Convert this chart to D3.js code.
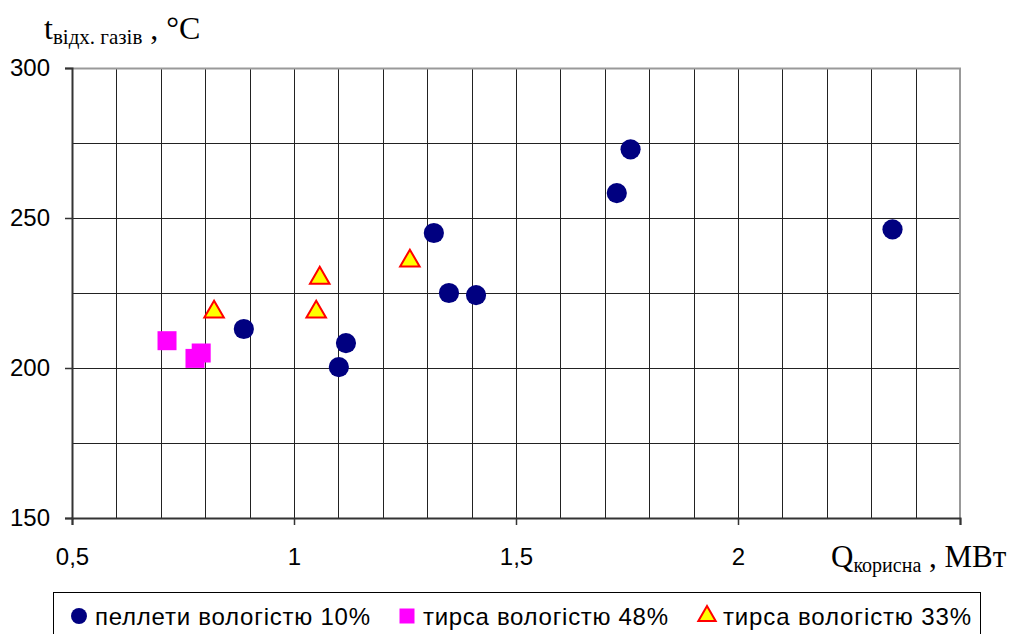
<!DOCTYPE html>
<html>
<head>
<meta charset="utf-8">
<script src="https://cdn.jsdelivr.net/npm/d3@7"></script>
<style>
  body { margin: 0; background: #fff; }
  svg { display: block; }
</style>
</head>
<body>
<div id="chart"></div>
<script>
'use strict';

// пеллети вологістю 10%
var pelletX = [0.887, 1.101, 1.117, 1.315, 1.349, 1.41, 1.727, 1.758, 2.348],
    pelletY = [213, 200.3, 208.3, 245, 225, 224.3, 258.3, 272.9, 246.2];
// тирса вологістю 48%
var sawdust48X = [0.714, 0.777, 0.791],
    sawdust48Y = [209.1, 203.2, 205];
// тирса вологістю 33%
var sawdust33X = [0.82, 1.05, 1.058, 1.261],
    sawdust33Y = [218.7, 218.7, 230, 235.7];

var xTicks = [0.5, 1, 1.5, 2, 2.5],
    xTickLabels = ['0,5', '1', '1,5', '2', ''],
    yTicks = [150, 200, 250, 300],
    legendLabels = ['пеллети вологістю 10%', 'тирса вологістю 48%', 'тирса вологістю 33%'];

var width = 1014,
    height = 634,
    margin = { top: 68, right: 54, bottom: 116, left: 72 },
    innerW = width - margin.left - margin.right,
    innerH = height - margin.top - margin.bottom,
    sans = 'Arial, "Liberation Sans", sans-serif',
    serif = '"Times New Roman", "Liberation Serif", serif';

var x = d3.scaleLinear().domain([0.5, 2.5]).range([0, innerW]),
    y = d3.scaleLinear().domain([150, 300]).range([innerH, 0]);

var svg = d3.select('#chart').append('svg').attr('width', width).attr('height', height),
    g = svg.append('g').attr('transform', 'translate(' + margin.left + ',' + margin.top + ')');

// grid
g.append('g').selectAll('line').data(d3.range(0.6, 2.45, 0.1)).enter().append('line')
  .attr('x1', function (d) { return Math.round(x(d)) + 0.5; })
  .attr('x2', function (d) { return Math.round(x(d)) + 0.5; })
  .attr('y1', 0).attr('y2', innerH)
  .attr('stroke', '#222').attr('stroke-width', 1);

g.append('g').selectAll('line').data(d3.range(175, 300, 25)).enter().append('line')
  .attr('x1', 0).attr('x2', innerW)
  .attr('y1', function (d) { return Math.round(y(d)) + 0.5; })
  .attr('y2', function (d) { return Math.round(y(d)) + 0.5; })
  .attr('stroke', '#222').attr('stroke-width', 1);

// plot border (top, right)
g.append('path')
  .attr('d', 'M0,0.5H' + innerW + 'V' + innerH)
  .attr('fill', 'none').attr('stroke', '#999').attr('stroke-width', 2);

// axes
var xAxis = g.append('g').attr('transform', 'translate(0,' + innerH + ')')
  .call(d3.axisBottom(x).tickValues(xTicks).tickSize(7).tickPadding(23)
    .tickFormat(function (d, i) { return xTickLabels[i]; }));
var yAxis = g.append('g')
  .call(d3.axisLeft(y).tickValues(yTicks).tickSize(7).tickPadding(15).tickFormat(d3.format('d')));

[xAxis, yAxis].forEach(function (a) {
  a.select('.domain').attr('stroke', '#333').attr('stroke-width', 2);
  a.selectAll('.tick line').attr('stroke', '#333').attr('stroke-width', 1.5);
  a.selectAll('.tick text').style('font-family', sans).style('font-size', '24px').attr('fill', '#000');
});
xAxis.selectAll('.tick text').attr('dy', '0.71em');

// data
var circlePath = d3.symbol().type(d3.symbolCircle).size(320),
    squarePath = d3.symbol().type(d3.symbolSquare).size(361),
    trianglePath = d3.symbol().type(d3.symbolTriangle).size(165);

g.append('g').selectAll('path').data(d3.range(sawdust48X.length)).enter().append('path')
  .attr('d', squarePath)
  .attr('transform', function (i) { return 'translate(' + x(sawdust48X[i]) + ',' + y(sawdust48Y[i]) + ')'; })
  .attr('fill', '#ff00ff');

g.append('g').selectAll('path').data(d3.range(sawdust33X.length)).enter().append('path')
  .attr('d', trianglePath)
  .attr('transform', function (i) { return 'translate(' + x(sawdust33X[i]) + ',' + y(sawdust33Y[i]) + ')'; })
  .attr('fill', '#ffff00').attr('stroke', '#ff0000').attr('stroke-width', 2);

g.append('g').selectAll('path').data(d3.range(pelletX.length)).enter().append('path')
  .attr('d', circlePath)
  .attr('transform', function (i) { return 'translate(' + x(pelletX[i]) + ',' + y(pelletY[i]) + ')'; })
  .attr('fill', '#000080');

// axis titles
var yTitle = svg.append('text')
  .attr('x', 44).attr('y', 39)
  .style('font-family', serif).style('font-size', '32px').attr('fill', '#000');
yTitle.append('tspan').text('t');
yTitle.append('tspan').attr('dy', 5).style('font-size', '21px').text('відх. газів');
yTitle.append('tspan').attr('dy', -5).text(' , °C');

var xTitle = svg.append('text')
  .attr('x', 831).attr('y', 567)
  .style('font-family', serif).style('font-size', '31px').attr('fill', '#000');
xTitle.append('tspan').text('Q');
xTitle.append('tspan').attr('dy', 5).style('font-size', '20px').text('корисна');
xTitle.append('tspan').attr('dy', -5).text(' , МВт');

// legend
var legend = svg.append('g');
legend.append('rect')
  .attr('x', 53.5).attr('y', 592.5).attr('width', 927).attr('height', 60)
  .attr('fill', '#fff').attr('stroke', '#000').attr('stroke-width', 1);

var legendX = [79, 407, 707],
    legendTextW = [275, 245, 248],
    legendSymbols = [
      { d: d3.symbol().type(d3.symbolCircle).size(200)(), fill: '#000080', stroke: 'none' },
      { d: d3.symbol().type(d3.symbolSquare).size(225)(), fill: '#ff00ff', stroke: 'none' },
      { d: d3.symbol().type(d3.symbolTriangle).size(130)(), fill: '#ffff00', stroke: '#ff0000' }
    ];

legendLabels.forEach(function (label, i) {
  legend.append('path')
    .attr('d', legendSymbols[i].d)
    .attr('transform', 'translate(' + legendX[i] + ',' + 616 + ')')
    .attr('fill', legendSymbols[i].fill)
    .attr('stroke', legendSymbols[i].stroke).attr('stroke-width', 2);
  legend.append('text')
    .attr('x', legendX[i] + 16).attr('y', 625)
    .attr('textLength', legendTextW[i]).attr('lengthAdjust', 'spacing')
    .style('font-family', sans).style('font-size', '24px').attr('fill', '#000')
    .text(label);
});
</script>
</body>
</html>
